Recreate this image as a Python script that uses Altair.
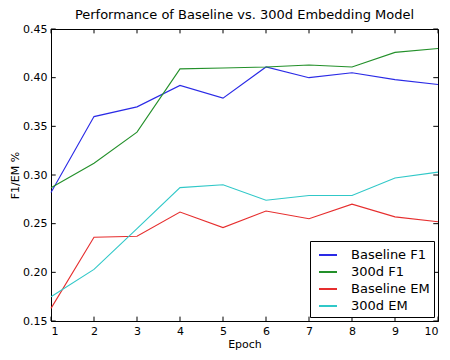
import altair as alt
import pandas as pd

epochs = [1, 2, 3, 4, 5, 6, 7, 8, 9, 10]
baseline_f1 = [0.282, 0.360, 0.370, 0.392, 0.379, 0.411, 0.400, 0.405, 0.398, 0.393]
d300_f1 = [0.287, 0.312, 0.344, 0.409, 0.410, 0.411, 0.413, 0.411, 0.426, 0.430]
baseline_em = [0.163, 0.236, 0.237, 0.262, 0.246, 0.263, 0.255, 0.270, 0.257, 0.252]
d300_em = [0.175, 0.203, 0.245, 0.287, 0.290, 0.274, 0.279, 0.279, 0.297, 0.303]

series_names = ["Baseline F1", "300d F1", "Baseline EM", "300d EM"]
series_colors = ["#2a2ae6", "#23902a", "#e62e2e", "#30c8c8"]
x_ticks = [1, 2, 3, 4, 5, 6, 7, 8, 9, 10]
y_ticks = [0.15, 0.20, 0.25, 0.30, 0.35, 0.40, 0.45]

rows = []
for name, vals in zip(series_names, [baseline_f1, d300_f1, baseline_em, d300_em]):
    for e, v in zip(epochs, vals):
        rows.append({"Epoch": e, "Value": v, "Series": name})
df = pd.DataFrame(rows)

TOTAL_W, TOTAL_H = 434, 342
FONT = "DejaVu Sans"

xscale = alt.Scale(domain=[1, 10], nice=False, zero=False)
yscale = alt.Scale(domain=[0.15, 0.45], nice=False, zero=False)

lines = alt.Chart(df).mark_line(strokeWidth=1.1).encode(
    x=alt.X("Epoch:Q", scale=xscale,
            axis=alt.Axis(values=x_ticks, format="d", title="Epoch", tickSize=0,
                          labelPadding=4, titlePadding=2, grid=False)),
    y=alt.Y("Value:Q", scale=yscale,
            axis=alt.Axis(values=y_ticks, format=".2f", title="F1/EM %", tickSize=0,
                          labelPadding=4, titlePadding=2, grid=False)),
    color=alt.Color("Series:N",
                    scale=alt.Scale(domain=series_names, range=series_colors),
                    legend=alt.Legend(title=None, orient="bottom-right",
                                      offset=4, strokeColor="black",
                                      fillColor="white", padding=4,
                                      symbolType="stroke", symbolStrokeWidth=2,
                                      symbolSize=324, labelFontSize=13,
                                      labelFont=FONT, labelColor="black",
                                      rowPadding=0, labelOffset=13,
                                      symbolOffset=4, cornerRadius=0)),
)

xt = pd.DataFrame({"t": x_ticks})
yt = pd.DataFrame({"t": y_ticks})

xt_bottom = alt.Chart(xt).mark_rule(color="black", strokeWidth=1).encode(
    x=alt.X("t:Q", scale=xscale),
    y=alt.Y("y0:Q", scale=yscale), y2=alt.Y2("y1:Q"),
).transform_calculate(y0="0.15", y1="0.1545")
xt_top = alt.Chart(xt).mark_rule(color="black", strokeWidth=1).encode(
    x=alt.X("t:Q", scale=xscale),
    y=alt.Y("y0:Q", scale=yscale), y2=alt.Y2("y1:Q"),
).transform_calculate(y0="0.45", y1="0.4455")
yt_left = alt.Chart(yt).mark_rule(color="black", strokeWidth=1).encode(
    y=alt.Y("t:Q", scale=yscale),
    x=alt.X("x0:Q", scale=xscale), x2=alt.X2("x1:Q"),
).transform_calculate(x0="1", x1="1.11")
yt_right = alt.Chart(yt).mark_rule(color="black", strokeWidth=1).encode(
    y=alt.Y("t:Q", scale=yscale),
    x=alt.X("x0:Q", scale=xscale), x2=alt.X2("x1:Q"),
).transform_calculate(x0="10", x1="9.89")

chart = alt.layer(lines, xt_bottom, xt_top, yt_left, yt_right).properties(
    width=TOTAL_W, height=TOTAL_H,
    title=alt.TitleParams("Performance of Baseline vs. 300d Embedding Model",
                          font=FONT, fontSize=13, fontWeight="normal",
                          color="black", offset=1),
    autosize=alt.AutoSizeParams(type="fit", contains="padding"),
    padding={"left": 1, "top": 1, "right": 1, "bottom": 1},
).configure_view(stroke="black", strokeWidth=1).configure_axis(
    labelFont=FONT, titleFont=FONT, labelFontSize=11, titleFontSize=11,
    titleFontWeight="normal", labelColor="black", titleColor="black",
    domainColor="black", domain=True,
)

chart.save("out.html", embed_options={"renderer": "svg", "actions": False})
